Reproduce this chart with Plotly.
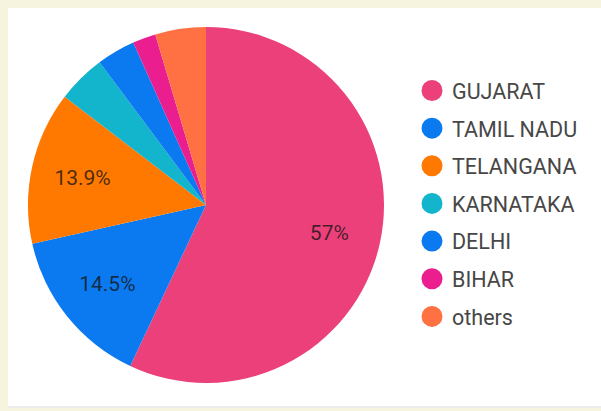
import plotly.graph_objects as go

# ---- data ----
states = ["GUJARAT", "TAMIL NADU", "TELANGANA", "KARNATAKA", "DELHI", "BIHAR", "others"]
shares = [57.0, 14.5, 13.9, 4.4, 3.5, 2.1, 4.6]
colors = ["#EC407A", "#0B7AF0", "#FF7800", "#12B5CB", "#0B7AF0", "#EA1E8E", "#FF7043"]

W, H = 601, 411
dom = dict(x=[28 / W, 384 / W], y=[28 / H, 384 / H])

fig = go.Figure()

# slices
fig.add_trace(go.Pie(
    labels=states,
    values=shares,
    marker=dict(colors=colors, line=dict(width=0)),
    sort=False,
    direction="clockwise",
    rotation=0,
    textinfo="none",
    hoverinfo="label+percent",
    showlegend=False,
    domain=dom,
))

# percentage labels (same data, transparent ring so labels sit ~0.7 radius)
labels_tpl = ["%{percent}" if v >= 5 else "" for v in shares]
fig.add_trace(go.Pie(
    labels=states,
    values=shares,
    hole=0.42,
    marker=dict(colors=["rgba(0,0,0,0)"] * len(states), line=dict(width=0)),
    sort=False,
    direction="clockwise",
    rotation=0,
    texttemplate=labels_tpl,
    textposition="inside",
    insidetextorientation="horizontal",
    textfont=dict(family="Roboto", size=21, color="rgba(20,20,20,0.78)"),
    hoverinfo="skip",
    showlegend=False,
    domain=dom,
))

# legend entries with circular symbols
for i, (name, c) in enumerate(zip(states, colors)):
    fig.add_trace(go.Scatter(
        x=[None], y=[None], mode="markers", name=name,
        legendgroup=f"g{i}",
        marker=dict(symbol="circle", size=16, color=c, line=dict(color=c, width=5)),
    ))

fig.update_layout(
    width=W, height=H,
    margin=dict(l=0, r=0, t=0, b=0),
    paper_bgcolor="#F6F3DF",
    plot_bgcolor="rgba(0,0,0,0)",
    xaxis=dict(visible=False),
    yaxis=dict(visible=False),
    showlegend=True,
    legend=dict(
        x=412 / W, xanchor="left",
        y=1 - 70 / H, yanchor="top",
        font=dict(family="Roboto", size=21.5, color="#474747"),
        bgcolor="rgba(0,0,0,0)",
        traceorder="grouped",
        tracegroupgap=6.7,
        itemclick=False, itemdoubleclick=False,
    ),
    shapes=[
        dict(type="rect", xref="paper", yref="paper",
             x0=8 / W, x1=1.0, y0=3 / H, y1=1 - 8 / H,
             fillcolor="white", line=dict(width=0), layer="below"),
        dict(type="line", xref="paper", yref="paper",
             x0=8 / W, x1=1.0, y0=4 / H, y1=4 / H,
             line=dict(color="#D9D9D9", width=1), layer="below"),
    ],
)

fig.write_html("out.html", config={"displayModeBar": False},
               post_script="document.body.style.margin='0';")
